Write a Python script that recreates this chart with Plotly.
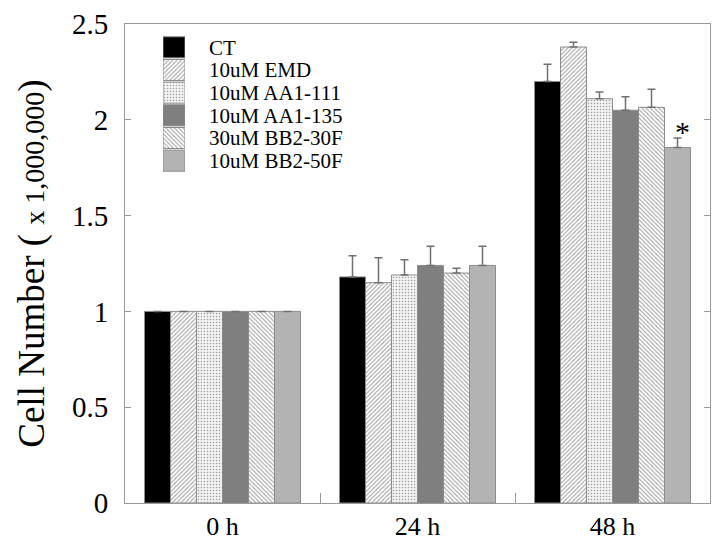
import plotly.graph_objects as go

times = ["0 h", "24 h", "48 h"]
groups = ["CT", "10uM EMD", "10uM AA1-111", "10uM AA1-135", "30uM BB2-30F", "10uM BB2-50F"]
values = [
    [1.0, 1.18, 2.20],
    [1.0, 1.15, 2.38],
    [1.0, 1.19, 2.11],
    [1.0, 1.24, 2.05],
    [1.0, 1.20, 2.065],
    [1.0, 1.24, 1.855],
]
errors = [
    [None, 0.11, 0.09],
    [None, 0.13, 0.025],
    [None, 0.08, 0.035],
    [None, 0.10, 0.07],
    [None, 0.025, 0.095],
    [None, 0.10, 0.05],
]
star_label = "*"
star_y = 1.94

fills = [
    dict(color="#000000", shape="", fg="#000000", bg="#000000", size=8, solidity=0.3),
    dict(color="white", shape="/", fg="#999999", bg="white", size=3, solidity=0.35),
    dict(color="#f2f2f2", shape=".", fg="#c4c4c4", bg="#f4f4f4", size=3, solidity=0.2),
    dict(color="#7f7f7f", shape="", fg="#7f7f7f", bg="#7f7f7f", size=8, solidity=0.3),
    dict(color="white", shape="\\", fg="#999999", bg="white", size=3, solidity=0.35),
    dict(color="#b3b3b3", shape="", fg="#b3b3b3", bg="#b3b3b3", size=8, solidity=0.3),
]


def marker_for(fs):
    return dict(
        color=[f["color"] for f in fs],
        line=dict(color="#8c8c8c", width=1),
        pattern=dict(shape=[f["shape"] for f in fs], fgcolor=[f["fg"] for f in fs],
                     bgcolor=[f["bg"] for f in fs], size=[f["size"] for f in fs],
                     solidity=[f["solidity"] for f in fs]),
    )


fig = go.Figure()
for name, vals, errs, f in zip(groups, values, errors, fills):
    fig.add_trace(go.Bar(
        x=times, y=vals, name=name, marker=marker_for([f] * len(vals)),
        error_y=dict(type="data", array=errs, arrayminus=[0] * len(errs), symmetric=False,
                     visible=True, color="#707070", thickness=1.5, width=4),
        showlegend=False,
    ))

# legend key: one swatch per group, drawn as bars on a small inset axis
fig.add_trace(go.Bar(
    y=groups, x=[1] * len(groups), orientation="h", width=0.93,
    marker=marker_for(fills), xaxis="x2", yaxis="y2", showlegend=False, hoverinfo="skip",
))

fig.add_annotation(x="48 h", y=star_y, text=star_label, showarrow=False, xshift=70,
                   font=dict(family="Liberation Serif", size=30, color="black"))

fig.update_layout(
    width=703, height=535,
    margin=dict(l=117, r=1, t=16, b=40),
    paper_bgcolor="white", plot_bgcolor="white",
    barmode="group", bargap=0.2, bargroupgap=0,
    font=dict(family="Liberation Serif", color="black"),
    showlegend=False,
    xaxis=dict(
        showline=True, linecolor="#999999", linewidth=1, mirror=True,
        ticks="inside", tickson="boundaries", ticklen=10, tickcolor="#999999",
        tickfont=dict(family="Liberation Serif", size=26, color="black"),
        showgrid=False,
    ),
    yaxis=dict(
        range=[0, 2.5], dtick=0.5, tick0=0,
        showline=True, linecolor="#999999", linewidth=1, mirror="ticks",
        ticks="inside", ticklen=6, tickcolor="#999999", ticklabelstandoff=10,
        tickfont=dict(family="Liberation Serif", size=29, color="black"),
        showgrid=False, zeroline=False,
        title=dict(text="Cell Number ( <span style='font-size:28px'>x 1,000,000</span>)",
                   font=dict(family="Liberation Serif", size=37, color="black"), standoff=16),
    ),
    xaxis2=dict(domain=[0.065, 0.1026], anchor="y2", range=[0, 1], visible=False, fixedrange=True),
    yaxis2=dict(domain=[0.691, 0.975], anchor="x2", side="right", range=[5.5, -0.5],
                tickmode="array", tickvals=groups, ticktext=groups,
                showline=False, showgrid=False, zeroline=False, ticks="", ticklabelstandoff=23,
                tickfont=dict(family="Liberation Serif", size=21, color="black"), fixedrange=True),
)

fig.write_html("out.html")
